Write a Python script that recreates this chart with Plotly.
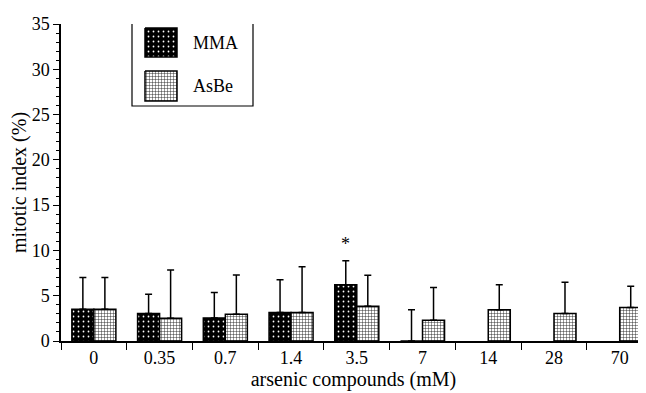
import plotly.graph_objects as go

categories = ["0", "0.35", "0.7", "1.4", "3.5", "7", "14", "28", "70"]
mma_values = [3.5, 3.05, 2.55, 3.15, 6.2, 0, None, None, None]
mma_err_upper = [3.5, 2.1, 2.8, 3.6, 2.65, 3.45, None, None, None]
asbe_values = [3.5, 2.5, 2.95, 3.15, 3.85, 2.3, 3.45, 3.05, 3.7]
asbe_err_upper = [3.5, 5.35, 4.35, 5.05, 3.4, 3.6, 2.75, 3.45, 2.35]
series_names = ["MMA", "AsBe"]

FONT = "Liberation Serif"

mma_pattern = dict(shape=".", fgcolor="white", bgcolor="black", size=5, solidity=0.1, fillmode="replace")
asbe_pattern = dict(shape="+", fgcolor="#222", bgcolor="white", size=3, solidity=0.28, fillmode="replace")

fig = go.Figure()

fig.add_trace(go.Bar(
    x=categories, y=mma_values, name=series_names[0], showlegend=False,
    marker=dict(color="black", line=dict(color="black", width=1.5), pattern=mma_pattern),
    error_y=dict(type="data", symmetric=False, array=mma_err_upper,
                 arrayminus=[0] * len(categories), color="black",
                 thickness=1.5, width=3.5),
))
fig.add_trace(go.Bar(
    x=categories, y=asbe_values, name=series_names[1], showlegend=False,
    marker=dict(color="white", line=dict(color="black", width=1.5), pattern=asbe_pattern),
    error_y=dict(type="data", symmetric=False, array=asbe_err_upper,
                 arrayminus=[0] * len(categories), color="black",
                 thickness=1.5, width=3.5),
))

# legend drawn on an overlay axis in page-pixel-like units
sw = [(145, 177, 28, 57), (145, 177, 71, 101)]
styles = [
    dict(fillcolor="black", fillpattern=mma_pattern),
    dict(fillcolor="white", fillpattern=asbe_pattern),
]
for (x0, x1, y0, y1), st, nm in zip(sw, styles, series_names):
    fig.add_trace(go.Scatter(
        x=[x0, x1, x1, x0, x0], y=[y0, y0, y1, y1, y0], xaxis="x2", yaxis="y2",
        mode="lines", fill="toself", line=dict(color="black", width=1.5),
        showlegend=False, hoverinfo="skip", **st))
    fig.add_annotation(x=191, y=(y0 + y1) / 2, xref="x2", yref="y2", text=nm,
                       showarrow=False, xanchor="left",
                       font=dict(family=FONT, size=18, color="black"))

fig.add_shape(type="rect", xref="x2", yref="y2", x0=132, x1=253, y0=19, y1=106,
              line=dict(color="black", width=1.2), fillcolor="rgba(0,0,0,0)")

fig.add_annotation(x=4, y=10.7, xref="x", yref="y", text="*", showarrow=False,
                   xshift=-11, font=dict(family=FONT, size=18, color="black"))

# page has an 8px body margin, so the figure is 8px smaller and plot area shifted
fig.update_layout(
    width=638, height=385,
    margin=dict(l=53, r=0, t=16, b=52),
    paper_bgcolor="white", plot_bgcolor="white",
    barmode="group", bargap=0.33, bargroupgap=0,
    font=dict(family=FONT, size=18, color="black"),
    xaxis=dict(
        type="category", range=[-0.5, 8.4], tickson="boundaries", automargin=False,
        ticks="outside", ticklen=7, tickwidth=1.2, tickcolor="black",
        showline=True, linecolor="black", linewidth=1.5,
        showgrid=False, zeroline=False,
        title=dict(text="arsenic compounds (mM)", font=dict(size=20), standoff=0),
        tickfont=dict(size=18),
    ),
    yaxis=dict(
        range=[0, 35], dtick=5, ticks="outside", ticklen=6, tickwidth=1.2, automargin=False,
        tickcolor="black", showline=True, linecolor="black", linewidth=1.5,
        showgrid=False, zeroline=False,
        minor=dict(dtick=1, ticks="outside", ticklen=3, tickcolor="black", tickwidth=1),
        title=dict(text="mitotic index (%)", font=dict(size=20), standoff=2),
        tickfont=dict(size=18),
    ),
    xaxis2=dict(overlaying="x", range=[61, 646], visible=False),
    yaxis2=dict(overlaying="y", range=[341, 24], visible=False, anchor="x2"),
)

fig.write_html("out.html")
